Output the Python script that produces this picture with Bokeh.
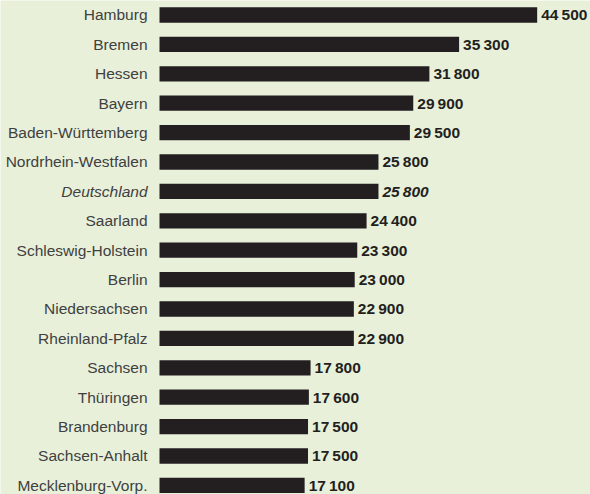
from bokeh.plotting import figure
from bokeh.models import ColumnDataSource, Range1d
from bokeh.core.properties import value
from bokeh.embed import file_html
from bokeh.resources import INLINE

# Data
regions = ["Hamburg", "Bremen", "Hessen", "Bayern", "Baden-Württemberg",
           "Nordrhein-Westfalen", "Deutschland", "Saarland", "Schleswig-Holstein",
           "Berlin", "Niedersachsen", "Rheinland-Pfalz", "Sachsen", "Thüringen",
           "Brandenburg", "Sachsen-Anhalt", "Mecklenburg-Vorp."]
values = [44500, 35300, 31800, 29900, 29500, 25800, 25800, 24400, 23300,
          23000, 22900, 22900, 17800, 17600, 17500, 17500, 17100]

BG = "#e8f0da"
BAR = "#231f20"

pos = list(range(len(regions)))
labels = [f"{v:,}".replace(",", "\u2009") for v in values]
styles = ["italic" if r == "Deutschland" else "normal" for r in regions]
vstyles = ["bold italic" if r == "Deutschland" else "bold" for r in regions]

src = ColumnDataSource(dict(y=pos, name=regions, v=values, lab=labels,
                            zero=[0] * len(values), st=styles, vst=vstyles))

W, H = 590, 494
px_per_unit = 8.487 / 1000.0
x0_px = 159
xr = Range1d(-x0_px / px_per_unit, (W - x0_px) / px_per_unit)
yr = Range1d(16.31, -0.493)

p = figure(width=W, height=H, x_range=xr, y_range=yr,
           output_backend="svg", toolbar_location=None,
           min_border=0, min_border_left=0, min_border_right=0,
           min_border_top=0, min_border_bottom=0)
p.axis.visible = False
p.grid.visible = False
p.outline_line_color = None
p.background_fill_color = BG
p.border_fill_color = BG

p.hbar(y="y", left="zero", right="v", height=0.52, source=src,
       fill_color=BAR, line_color=None)

p.text(x="zero", y="y", text="name", source=src, x_offset=-12,
       text_align="right", text_baseline="middle",
       text_font=value("Liberation Sans"), text_font_size="15.5px",
       text_font_style="st", text_color="#404040")

p.text(x="v", y="y", text="lab", source=src, x_offset=4,
       text_align="left", text_baseline="middle",
       text_font=value("Liberation Sans"), text_font_size="15.5px",
       text_font_style="vst", text_color=BAR)

open("out.html", "w").write(file_html(p, INLINE))
